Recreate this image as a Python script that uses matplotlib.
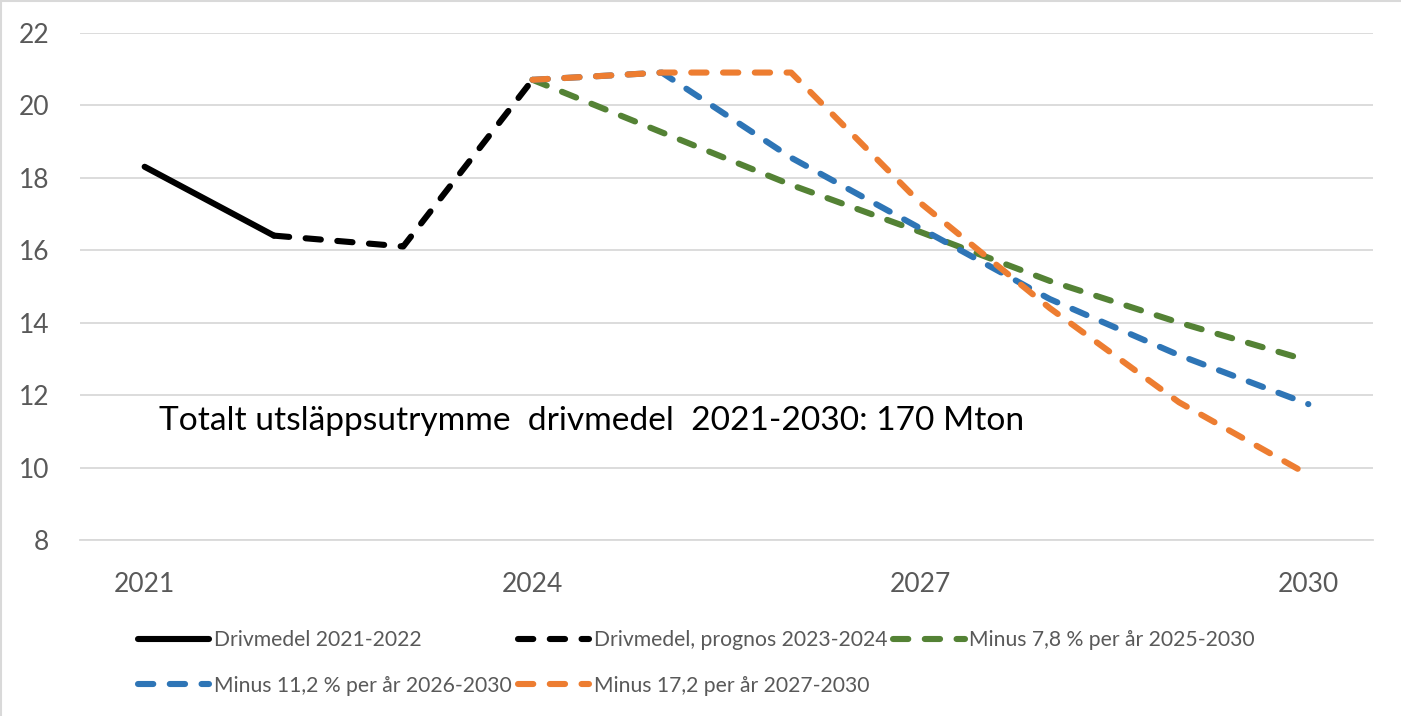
import matplotlib
matplotlib.use('Agg')
import matplotlib.pyplot as plt
from matplotlib.lines import Line2D

plt.rcParams['font.family'] = ['Lato', 'DejaVu Sans']

# data (Mton per year)
years_actual = [2021, 2022]
drivmedel_actual = [18.3, 16.4]

years_prognos = [2022, 2023, 2024]
drivmedel_prognos = [16.4, 16.1, 20.7]

years_path = [2024, 2025, 2026, 2027, 2028, 2029, 2030]
minus_7_8 = [20.7, 19.25, 17.8, 16.5, 15.15, 14.0, 12.95]
minus_11_2 = [20.7, 20.9, 18.55, 16.6, 14.65, 13.1, 11.75]
minus_17_2 = [20.7, 20.9, 20.9, 17.3, 14.4, 11.8, 9.8]

labels = ['Drivmedel 2021-2022', 'Drivmedel, prognos 2023-2024',
          'Minus 7,8 % per år 2025-2030', 'Minus 11,2 % per år 2026-2030',
          'Minus 17,2 per år 2027-2030']
xtick_years = [2021, 2024, 2027, 2030]
ytick_vals = [8, 10, 12, 14, 16, 18, 20, 22]
note = 'Totalt utsläppsutrymme  drivmedel  2021-2030: 170 Mton'

W, H = 1401, 716
fig = plt.figure(figsize=(W / 100, H / 100), dpi=100)
ax = fig.add_axes([80 / W, 1 - 540 / H, (1373 - 80) / W, (540 - 32.7) / H])

lw = 4.4
dash = (0, (2.5, 2.7))
grey = '#595959'

h_act, = ax.plot(years_actual, drivmedel_actual, color='black', lw=lw,
                 solid_capstyle='round', label=labels[0])
h_prog, = ax.plot(years_prognos, drivmedel_prognos, color='black', lw=lw, ls=dash,
                  dash_capstyle='round', label=labels[1])
h_g, = ax.plot(years_path, minus_7_8, color='#548235', lw=lw, ls=dash,
               dash_capstyle='round', label=labels[2])
h_b, = ax.plot(years_path, minus_11_2, color='#2E75B6', lw=lw, ls=dash,
               dash_capstyle='round', label=labels[3])
h_o, = ax.plot(years_path, minus_17_2, color='#ED7D31', lw=lw, ls=dash,
               dash_capstyle='round', label=labels[4])

ax.set_xlim(2020.5, 2030.5)
ax.set_ylim(8, 22)
ax.set_xticks(xtick_years)
ax.set_yticks(ytick_vals)
ax.tick_params(axis='both', length=0, labelsize=19, labelcolor=grey)
ax.tick_params(axis='y', pad=22)
ax.tick_params(axis='x', pad=23)

ax.yaxis.grid(True, color='#D9D9D9', lw=1.3)
ax.set_axisbelow(True)
for s in ['top', 'right', 'left']:
    ax.spines[s].set_visible(False)
ax.spines['bottom'].set_color('#D9D9D9')
ax.spines['bottom'].set_linewidth(1.3)

ax.text(2021.11, 11.04, note, fontsize=24.1, color='black', va='baseline', ha='left')

# legend: matplotlib fills by column, so order to get rows A B C / D E
order = [h_act, h_b, h_prog, h_o, h_g]
ax.legend(handles=order, labels=[h.get_label() for h in order], ncol=3,
          loc='center', bbox_to_anchor=(0.497, 1 - 663 / H), bbox_transform=fig.transFigure,
          frameon=False, fontsize=15.2, labelcolor=grey, handlelength=3.4,
          handletextpad=0.2, columnspacing=0.3, labelspacing=1.2)

# thin chart border on top and left
fig.add_artist(Line2D([0, 1], [0.999, 0.999], transform=fig.transFigure, color='#D9D9D9', lw=1.5))
fig.add_artist(Line2D([0.0008, 0.0008], [0, 1], transform=fig.transFigure, color='#D9D9D9', lw=1.5))

fig.savefig('out.png', dpi=100)
